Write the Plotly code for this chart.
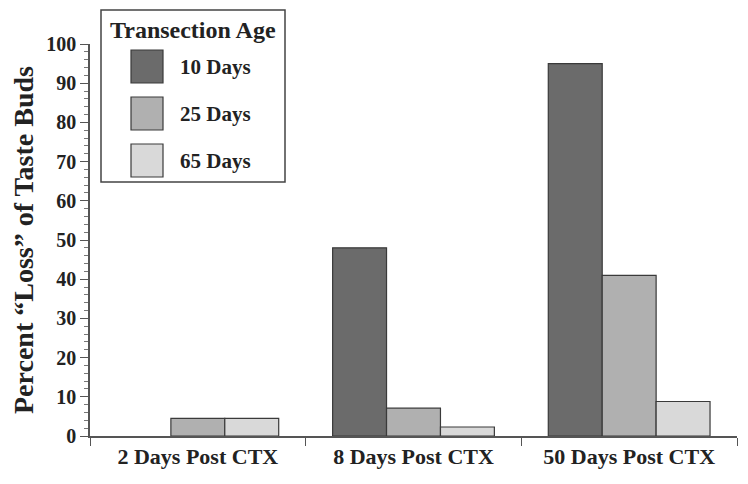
import plotly.graph_objects as go

categories = ["2 Days Post CTX", "8 Days Post CTX", "50 Days Post CTX"]
series_names = ["10 Days", "25 Days", "65 Days"]
values_10 = [0, 48, 95]
values_25 = [4.5, 7.1, 41]
values_65 = [4.5, 2.3, 8.8]
legend_title = "Transection Age"
y_title = "Percent \u201cLoss\u201d of Taste Buds"

colors = ["#6b6b6b", "#b0b0b0", "#d9d9d9"]
font_family = "Liberation Serif, Times New Roman, serif"

fig = go.Figure()
for name, vals, col in zip(series_names, [values_10, values_25, values_65], colors):
    fig.add_trace(go.Bar(
        x=categories, y=vals, name=name,
        marker=dict(color=col, line=dict(color="#3a3a3a",
                                         width=[1.2 if v > 0 else 0 for v in vals])),
        showlegend=False,
    ))

fig.update_layout(
    width=748, height=484,
    margin=dict(l=82, r=19, t=36, b=56),
    paper_bgcolor="white", plot_bgcolor="white",
    barmode="group", bargap=0.25, bargroupgap=0,
    font=dict(family=font_family, color="#222"),
)
fig.update_xaxes(
    type="category", showline=True, linecolor="#555", linewidth=1.5,
    ticks="outside", tickson="boundaries", ticklen=8, tickcolor="#555",
    tickfont=dict(family=font_family, size=22, weight="bold", color="#222"),
    showgrid=False, zeroline=False, automargin=False,
)
fig.update_yaxes(
    range=[0, 100], dtick=10, showline=True, linecolor="#555", linewidth=1.5,
    ticks="outside", ticklen=8, tickcolor="#555", tickwidth=1.2,
    minor=dict(dtick=2, ticks="outside", ticklen=4, tickcolor="#777"),
    tickfont=dict(family=font_family, size=20, weight="bold", color="#222"),
    showgrid=False, zeroline=False, automargin=False,
    title=dict(text=y_title, font=dict(family=font_family, size=28, weight="bold", color="#222"), standoff=6),
)

# Legend box drawn manually (paper coordinates, relative to plot area)
W, H = 647.0, 392.0
def px(x):
    return (x - 90) / W
def py(y):
    return (436 - y) / H

fig.add_shape(type="rect", xref="paper", yref="paper",
              x0=px(101), x1=px(285), y0=py(182), y1=py(10),
              line=dict(color="#444", width=1.5), fillcolor="white", layer="above")
fig.add_annotation(xref="paper", yref="paper", x=px(193), y=py(30),
                   text=legend_title, showarrow=False, xanchor="center", yanchor="middle",
                   font=dict(family=font_family, size=24, weight="bold", color="#222"))
sw_tops = [50, 97, 144]
for name, col, top in zip(series_names, colors, sw_tops):
    fig.add_shape(type="rect", xref="paper", yref="paper",
                  x0=px(131), x1=px(163), y0=py(top + 33), y1=py(top),
                  line=dict(color="#3a3a3a", width=1.2), fillcolor=col, layer="above")
    fig.add_annotation(xref="paper", yref="paper", x=px(178), y=py(top + 16.5),
                       text=name, showarrow=False, xanchor="left", yanchor="middle",
                       font=dict(family=font_family, size=21, weight="bold", color="#222"))

fig.write_html("out.html")
